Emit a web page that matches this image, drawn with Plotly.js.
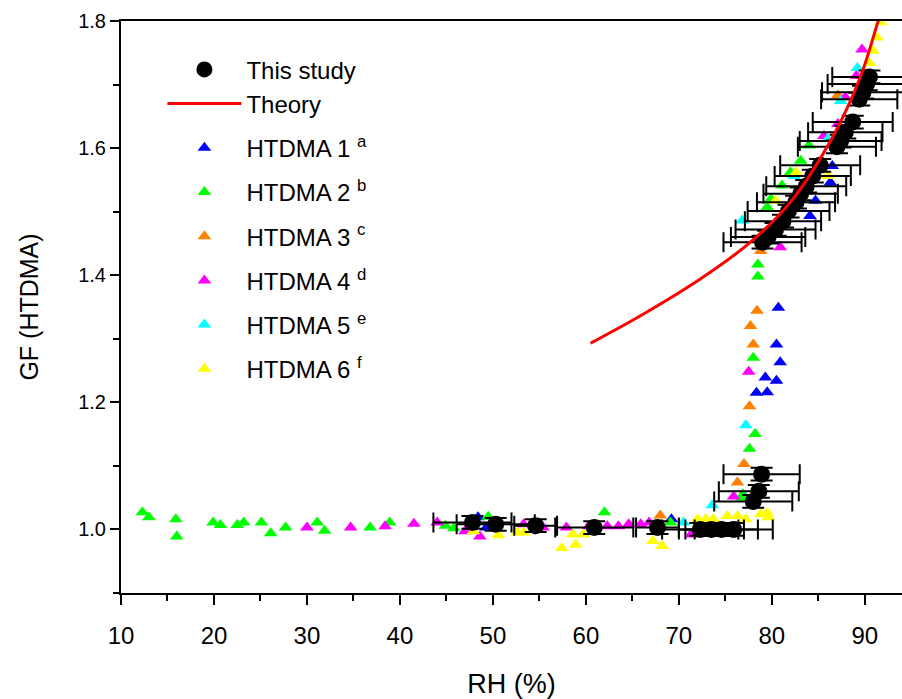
<!DOCTYPE html>
<html>
<head>
<meta charset="utf-8">
<script src="https://cdn.plot.ly/plotly-3.0.1.min.js"></script>
<style>html,body{margin:0;padding:0;background:#fff;}#chart{width:902px;height:699px;}</style>
</head>
<body>
<div id="chart"></div>
<script>
// ---- This study (GF with x/y error bars) ----
var studyRH  = [47.8, 50.3, 54.6, 60.9, 67.7, 72.3, 73.5, 74.6, 75.9,
                78.0, 78.6, 78.9,
                79.0, 79.6, 80.4, 81.2, 81.8, 82.6, 83.1, 83.7, 84.4, 85.2,
                87.0, 87.4, 87.9, 88.7, 89.4, 89.8, 90.2, 90.5];
var studyGF  = [1.011, 1.008, 1.006, 1.003, 1.003, 1.000, 1.000, 1.000, 1.000,
                1.044, 1.060, 1.087,
                1.452, 1.460, 1.472, 1.485, 1.501, 1.515, 1.528, 1.540, 1.556, 1.573,
                1.602, 1.611, 1.625, 1.641, 1.677, 1.688, 1.701, 1.712];
var studyRHerr = [4.2, 4.2, 2.3, 4.2, 2.3, 4.1, 3.5, 3.9, 4.2,
                  4.2, 4.3, 4.1,
                  4.2, 4.0, 4.3, 4.1, 4.4, 4.2, 4.0, 4.3, 4.1, 4.3,
                  4.2, 4.4, 4.0, 4.3, 4.1, 4.4, 4.2, 4.0];
var studyGFerr = [0.01, 0.01, 0.01, 0.01, 0.01, 0.01, 0.01, 0.01, 0.01,
                  0.01, 0.01, 0.01,
                  0.01, 0.01, 0.01, 0.01, 0.01, 0.01, 0.01, 0.01, 0.01, 0.01,
                  0.01, 0.01, 0.01, 0.01, 0.01, 0.01, 0.01, 0.01];

// ---- Theory curve ----
var theoryRH = [60.5, 66.2, 72.3, 77.7, 82.0, 86.6, 89.55, 91.4, 91.6];
var theoryGF = [1.293, 1.339, 1.394, 1.452, 1.515, 1.619, 1.713, 1.798, 1.806];

// ---- HTDMA 1 (blue) ----
var h1RH = [48.4, 49.3, 69.2, 78.35, 79.5, 79.3, 80.5, 80.9, 80.5, 80.7, 84.1, 84.7, 86.3, 86.5];
var h1GF = [1.019, 1.003, 1.016, 1.215, 1.216, 1.239, 1.234, 1.263, 1.291, 1.349, 1.493, 1.517, 1.546, 1.572];

// ---- HTDMA 2 (green) ----
var h2RH = [12.3, 13.0, 15.9, 16.0, 19.9, 20.7, 22.5, 23.2, 25.1, 26.1, 27.7, 31.1, 31.9,
            36.8, 38.9, 44.9, 45.8, 49.5, 62.0, 69.1,
            76.8, 76.9, 77.6, 78.2, 78.0, 78.5, 78.5,
            79.5, 79.9, 81.1, 82.0, 83.1, 84.0];
var h2GF = [1.027, 1.019, 1.016, 0.989, 1.011, 1.007, 1.007, 1.011, 1.011, 0.994, 1.003, 1.011, 0.998,
            1.003, 1.011, 1.006, 1.002, 1.020, 1.027, 1.011,
            1.050, 1.055, 1.127, 1.150, 1.270, 1.398, 1.417,
            1.507, 1.520, 1.541, 1.562, 1.580, 1.604];

// ---- HTDMA 3 (orange) ----
var h3RH = [68.0, 76.3, 77.0, 77.6, 78.0, 77.7, 78.4, 78.8, 87.1];
var h3GF = [1.022, 1.074, 1.103, 1.194, 1.291, 1.320, 1.344, 1.438, 1.683];

// ---- HTDMA 4 (magenta) ----
var h4RH = [30.0, 34.7, 38.4, 41.5, 44.0, 47.0, 48.6, 53.3, 55.4, 57.9, 60.3, 62.3, 63.5,
            64.6, 65.9, 66.8, 71.3, 75.9, 77.5, 80.9, 85.6, 87.1, 87.9, 89.1, 89.7];
var h4GF = [1.003, 1.003, 1.005, 1.009, 1.011, 0.997, 0.989, 1.008, 1.003, 1.003, 1.005, 1.005, 1.005,
            1.008, 1.008, 1.011, 0.992, 1.052, 1.248, 1.444, 1.619, 1.638, 1.680, 1.714, 1.755];

// ---- HTDMA 5 (cyan) ----
var h5RH = [70.5, 73.6, 77.2, 76.8, 82.4, 86.0, 87.4, 89.2];
var h5GF = [1.011, 1.038, 1.164, 1.486, 1.556, 1.614, 1.674, 1.726];

// ---- HTDMA 6 (yellow) ----
var h6RH = [47.9, 50.6, 52.6, 53.3, 57.4, 58.6, 58.9, 59.7, 67.2, 68.2,
            72.0, 72.9, 73.7, 75.2, 76.3, 77.2, 78.8, 79.5, 79.6,
            80.4, 82.6, 86.0, 90.1, 90.5, 90.9, 91.3, 91.7];
var h6GF = [0.997, 0.991, 0.995, 0.995, 0.971, 0.992, 0.976, 0.992, 0.982, 0.974,
            1.016, 1.016, 1.016, 1.021, 1.021, 1.016, 1.024, 1.026, 1.019,
            1.517, 1.562, 1.556, 1.717, 1.734, 1.753, 1.774, 1.798];

var htdmaNames = ['HTDMA 1 <sup>a</sup>', 'HTDMA 2 <sup>b</sup>', 'HTDMA 3 <sup>c</sup>',
                  'HTDMA 4 <sup>d</sup>', 'HTDMA 5 <sup>e</sup>', 'HTDMA 6 <sup>f</sup>'];
var htdmaColors = ['#0000FF', '#00FF00', '#FF8000', '#FF00FF', '#00FFFF', '#FFFF00'];
var htdmaX = [h1RH, h2RH, h3RH, h4RH, h5RH, h6RH];
var htdmaY = [h1GF, h2GF, h3GF, h4GF, h5GF, h6GF];

var FONT = 'Liberation Sans, Arial, sans-serif';

var traces = [];
for (var i = 0; i < 6; i++) {
  traces.push({
    type: 'scatter', mode: 'markers', name: htdmaNames[i],
    x: htdmaX[i], y: htdmaY[i],
    marker: {symbol: 'triangle-up', size: 12, color: htdmaColors[i], line: {width: 0}},
    legendgroup: 'g' + (i + 1), legendrank: 3 + i
  });
}
traces.push({
  type: 'scatter', mode: 'markers', name: 'This study',
  x: studyRH, y: studyGF,
  error_x: {type: 'data', array: studyRHerr, color: '#000', thickness: 2, width: 10},
  error_y: {type: 'data', array: studyGFerr, color: '#000', thickness: 2, width: 11},
  marker: {symbol: 'circle', size: 17, color: '#000'},
  legendgroup: 'g0', legendrank: 1
});
traces.push({
  type: 'scatter', mode: 'lines', name: 'Theory',
  x: theoryRH, y: theoryGF, line: {color: '#FF0000', width: 3, shape: 'spline', smoothing: 1},
  legendgroup: 'g0', legendrank: 2
});

var layout = {
  width: 902, height: 699,
  margin: {l: 121, r: 0, t: 21, b: 106},
  paper_bgcolor: '#fff', plot_bgcolor: '#fff',
  font: {family: FONT, color: '#000', size: 20},
  showlegend: true,
  legend: {
    x: 0.053, y: 0.954, xanchor: 'left', yanchor: 'top',
    bgcolor: 'rgba(0,0,0,0)', borderwidth: 0,
    font: {size: 24, family: FONT},
    traceorder: 'grouped', tracegroupgap: 10, itemwidth: 74
  },
  xaxis: {
    range: [10, 94], showgrid: false, zeroline: false,
    showline: true, linecolor: '#000', linewidth: 2, mirror: true,
    ticks: 'outside', ticklen: 10, tickwidth: 2, tickcolor: '#000',
    tick0: 10, dtick: 10, ticklabelstandoff: 10,
    minor: {ticks: 'outside', ticklen: 6, tickwidth: 2, tickcolor: '#000', dtick: 5, showgrid: false},
    tickfont: {family: FONT, size: 24},
    title: {text: 'RH (%)', font: {size: 27, family: FONT}, standoff: 30}
  },
  yaxis: {
    range: [0.9, 1.8], showgrid: false, zeroline: false,
    showline: true, linecolor: '#000', linewidth: 2,
    ticks: 'outside', ticklen: 9, tickwidth: 2, tickcolor: '#000',
    tick0: 1.0, dtick: 0.2, tickformat: '.1f',
    minor: {ticks: 'outside', ticklen: 6, tickwidth: 2, tickcolor: '#000', dtick: 0.1, showgrid: false},
    tickfont: {size: 20, family: FONT},
    title: {text: 'GF (HTDMA)', font: {size: 25, family: FONT}, standoff: 32}
  }
};

Plotly.newPlot('chart', traces, layout, {displayModeBar: false, staticPlot: true});
</script>
</body>
</html>
